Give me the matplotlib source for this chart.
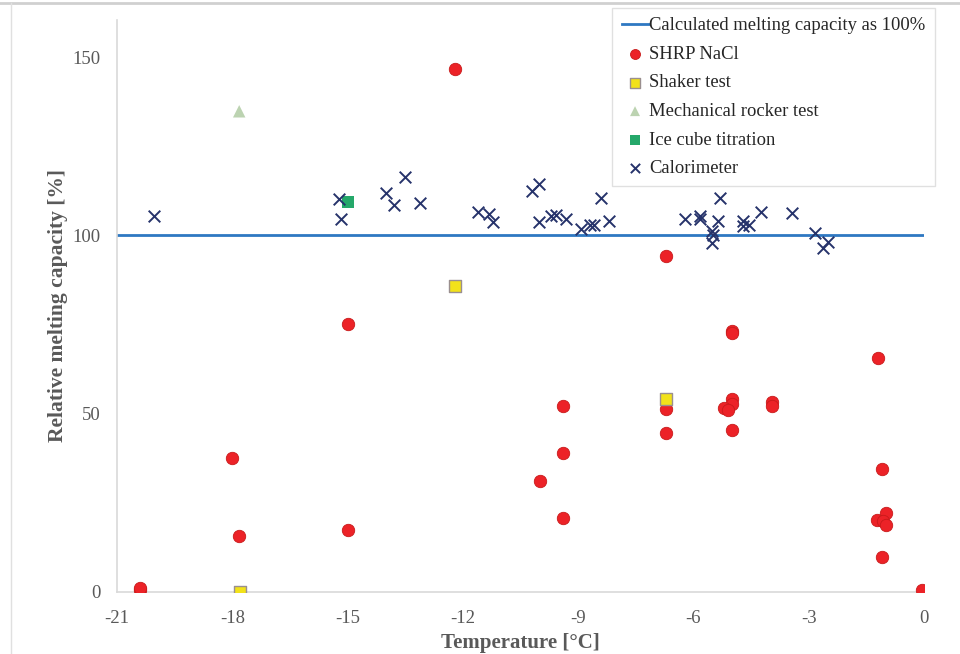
import matplotlib
matplotlib.use("Agg")
import matplotlib.pyplot as plt
from matplotlib.lines import Line2D

plt.rcParams['font.family'] = ['Liberation Serif', 'DejaVu Serif']
plt.rcParams['axes.unicode_minus'] = False

# ---- data ----
shrp_x = [-12.2, -18.0, -17.83, -15.0, -15.0, -20.4, -20.4,
          -9.4, -9.4, -10.0, -9.4,
          -6.71, -6.71, -6.71,
          -4.99, -4.99, -4.99, -5.0, -5.2, -5.1, -4.99,
          -3.95, -3.95,
          -1.19, -1.1, -1.0, -1.23, -1.06, -0.99, -1.1, -0.05]
shrp_y = [146.6, 37.6, 15.7, 75.1, 17.4, 0.5, 1.0,
          52.1, 39.0, 31.1, 20.7,
          94.2, 51.2, 44.7,
          73.2, 72.5, 54.2, 52.6, 51.5, 51.0, 45.4,
          53.4, 52.1,
          65.5, 34.4, 22.2, 20.2, 20.0, 18.7, 9.9, 0.5]

shaker_x = [-12.2, -6.71, -17.8]
shaker_y = [85.8, 54.0, 0.0]

rocker_x = [-17.82]
rocker_y = [134.8]

ice_x = [-15.0]
ice_y = [109.4]

cal_x = [-20.05, -15.22, -15.18, -14.01, -13.80, -13.50, -13.12,
         -11.61, -11.31, -11.21,
         -10.21, -10.01, -10.02, -9.70, -9.58, -9.32,
         -8.93, -8.69, -8.60, -8.41, -8.21,
         -6.22, -5.83, -5.83, -5.31, -5.35, -5.52, -5.48, -5.51,
         -4.70, -4.70, -4.55, -4.24, -3.44, -2.84, -2.51, -2.62]
cal_y = [105.4, 110.3, 104.6, 111.8, 108.5, 116.4, 109.2,
         106.5, 106.0, 103.8,
         112.5, 114.4, 103.8, 105.3, 105.6, 104.7,
         101.8, 102.9, 103.0, 110.4, 104.1,
         104.7, 105.3, 104.6, 110.4, 104.1, 101.2, 100.1, 98.0,
         104.0, 102.6, 102.9, 106.5, 106.2, 100.7, 98.2, 96.4]

reference_level = 100
x_ticks = [-21, -18, -15, -12, -9, -6, -3, 0]
y_ticks = [0, 50, 100, 150]

# ---- figure ----
fig = plt.figure(figsize=(9.6, 6.54), dpi=100)
ax = fig.add_axes([117/960, 1 - 592/654, (924 - 117)/960, (592 - 20)/654])

ax.axhline(reference_level, color='#2e78c2', lw=2, zorder=1,
           label='Calculated melting capacity as 100%')
ax.scatter(shrp_x, shrp_y, s=80, marker='o', color='#ec2227',
           edgecolors='#c81a1a', linewidths=0.6, zorder=3, label='SHRP NaCl')
ax.scatter(shaker_x, shaker_y, s=70, marker='s', color='#f2e21a',
           edgecolors='#9a8f8f', linewidths=1.0, zorder=4, label='Shaker test')
ax.scatter(rocker_x, rocker_y, s=80, marker='^', color='#bcd3b1',
           edgecolors='none', zorder=3, label='Mechanical rocker test')
ax.scatter(ice_x, ice_y, s=75, marker='s', color='#25a86a',
           edgecolors='none', zorder=4, label='Ice cube titration')
ax.scatter(cal_x, cal_y, s=70, marker='x', color='#26336b',
           linewidths=1.4, zorder=5, label='Calorimeter')

ax.set_xlim(-21, 0)
ax.set_ylim(0, 160.4)
ax.set_xticks(x_ticks)
ax.set_yticks(y_ticks)
ax.tick_params(length=0, labelsize=13.5, colors='#595959')
ax.tick_params(axis='x', pad=13)
ax.tick_params(axis='y', pad=12)
for s in ['top', 'right']:
    ax.spines[s].set_visible(False)
for s in ['left', 'bottom']:
    ax.spines[s].set_color('#d9d9d9')
    ax.spines[s].set_linewidth(1.2)

ax.set_xlabel('Temperature [°C]', fontsize=15, fontweight='bold',
              color='#595959', labelpad=4)
ax.set_ylabel('Relative melting capacity [%]', fontsize=15.5, fontweight='bold',
              color='#595959', labelpad=3)

leg = ax.legend(loc='upper right', bbox_to_anchor=(935/960, 1 - 8/654),
                bbox_transform=fig.transFigure, borderaxespad=0,
                fontsize=13.4, frameon=True, fancybox=False, handlelength=1.45,
                handletextpad=0.05, labelspacing=0.62, borderpad=0.5,
                markerscale=0.8)
leg.get_frame().set_edgecolor('#d9d9d9')
leg.get_frame().set_linewidth(1.0)
for txt in leg.get_texts():
    txt.set_color('#262626')

# figure frame (top and left)
fig.add_artist(Line2D([0, 1], [1 - 3/654, 1 - 3/654], transform=fig.transFigure,
                      color='#d0d0d0', lw=2))
fig.add_artist(Line2D([11/960, 11/960], [0, 1 - 3/654], transform=fig.transFigure,
                      color='#e0e0e0', lw=1))

fig.savefig('out.png', dpi=100)
